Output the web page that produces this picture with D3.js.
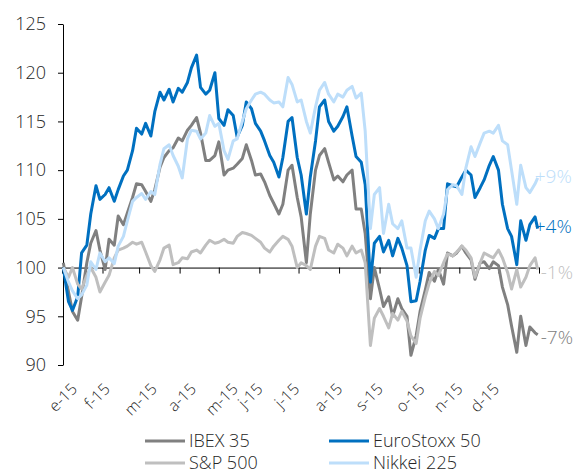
<!DOCTYPE html>
<meta charset="utf-8">
<script src="https://cdn.jsdelivr.net/npm/d3@7"></script>
<style>
	body{margin:0;background:#fff;font-family:"Open Sans",sans-serif;}
	.tick text{font-family:"Open Sans",sans-serif;fill:#262626;}
</style>
<div id="chart"></div>
<script>
// fechas (martes y viernes de 2015)
var dates = ["2015-01-02","2015-01-06","2015-01-09","2015-01-13","2015-01-16","2015-01-20","2015-01-23","2015-01-27","2015-01-30",
"2015-02-03","2015-02-06","2015-02-10","2015-02-13","2015-02-17","2015-02-20","2015-02-24","2015-02-27",
"2015-03-03","2015-03-06","2015-03-10","2015-03-13","2015-03-17","2015-03-20","2015-03-24","2015-03-27","2015-03-31",
"2015-04-03","2015-04-07","2015-04-10","2015-04-14","2015-04-17","2015-04-21","2015-04-24","2015-04-28",
"2015-05-01","2015-05-05","2015-05-08","2015-05-12","2015-05-15","2015-05-19","2015-05-22","2015-05-26","2015-05-29",
"2015-06-02","2015-06-05","2015-06-09","2015-06-12","2015-06-16","2015-06-19","2015-06-23","2015-06-26","2015-06-30",
"2015-07-03","2015-07-07","2015-07-10","2015-07-14","2015-07-17","2015-07-21","2015-07-24","2015-07-28","2015-07-31",
"2015-08-04","2015-08-07","2015-08-11","2015-08-14","2015-08-18","2015-08-21","2015-08-25","2015-08-28",
"2015-09-01","2015-09-04","2015-09-08","2015-09-11","2015-09-15","2015-09-18","2015-09-22","2015-09-25","2015-09-29",
"2015-10-02","2015-10-06","2015-10-09","2015-10-13","2015-10-16","2015-10-20","2015-10-23","2015-10-27","2015-10-30",
"2015-11-03","2015-11-06","2015-11-10","2015-11-13","2015-11-17","2015-11-20","2015-11-24","2015-11-27",
"2015-12-01","2015-12-04","2015-12-08","2015-12-11","2015-12-15","2015-12-18","2015-12-22","2015-12-25","2015-12-29","2015-12-31"]

var ibex = [100.5,97.5,95.5,94.6,97.0,100.5,102.5,103.8,101.8,
99.8,102.9,102.3,105.3,104.4,105.6,107.2,108.6,
108.5,107.8,106.8,108.0,110.3,111.3,112.0,112.3,113.3,
113.0,114.1,114.6,115.4,113.8,111.0,111.0,111.5,
112.9,109.5,110.0,110.2,110.6,111.2,112.6,111.0,109.5,
109.6,108.8,107.4,106.6,105.5,106.5,110.0,110.5,107.2,
105.2,100.5,105.5,110.0,111.5,112.2,110.8,109.0,109.4,
108.8,109.5,110.0,106.0,106.0,103.5,96.8,100.0,
97.8,96.0,97.0,95.0,96.8,95.8,95.0,91.0,93.0,
95.5,97.7,99.5,98.6,99.8,98.3,101.5,101.2,101.5,
102.2,101.5,100.8,98.8,100.5,100.6,99.9,100.6,
100.2,98.0,96.2,94.0,91.3,95.0,92.0,93.9,93.3,93.1]

var eurostoxx = [100.0,96.5,95.6,97.0,101.5,102.3,105.5,108.4,107.0,
107.5,108.2,106.8,108.0,109.4,110.0,112.0,114.3,
113.7,114.8,113.5,116.0,118.0,117.2,118.3,117.0,118.4,
118.0,119.0,120.5,121.8,118.5,117.8,118.2,120.0,
115.3,114.6,116.2,115.6,113.4,114.6,117.0,116.3,114.8,
114.0,113.0,111.5,110.8,109.3,111.3,115.0,115.4,111.3,
109.5,105.5,109.3,113.0,116.5,117.2,115.0,114.0,114.5,
115.5,116.5,113.5,111.4,110.8,108.5,98.5,102.5,
103.2,101.6,102.8,101.2,103.0,102.0,100.2,96.5,96.6,
98.6,101.8,103.3,103.0,104.0,104.0,108.6,108.4,108.3,
109.3,110.0,109.5,107.2,108.2,109.0,110.5,111.4,
110.0,106.5,104.0,103.2,100.3,104.8,102.8,104.4,105.2,104.0]

var sp500 = [100.0,99.0,100.0,98.3,97.8,99.2,100.0,99.0,97.5,
98.5,99.2,101.0,101.8,102.0,102.2,102.6,102.4,
102.6,101.6,100.2,99.6,100.8,102.0,102.3,100.3,100.5,
101.0,100.9,101.6,101.8,101.5,102.3,102.8,102.5,
102.6,102.9,102.6,102.5,103.2,103.6,103.5,103.3,103.0,
102.6,102.0,101.6,102.2,102.8,103.2,102.9,102.2,100.0,
100.5,100.2,99.8,102.2,103.2,103.0,101.8,101.5,102.4,
102.0,101.2,102.2,101.5,101.8,100.5,92.0,94.8,
95.8,95.0,93.8,95.3,94.6,95.5,94.5,93.0,92.2,
94.8,97.0,98.4,99.6,99.2,100.5,101.4,101.2,101.6,
102.2,101.8,101.0,99.0,100.5,101.5,101.2,101.0,
101.8,101.0,99.5,97.8,99.8,98.0,99.0,100.2,101.0,99.8]

var nikkei = [100.0,98.5,97.6,96.8,97.2,98.2,100.6,99.8,101.5,
100.6,101.0,100.4,102.2,103.2,104.8,106.8,107.2,
107.6,107.0,107.8,107.5,110.6,112.2,112.6,111.5,110.4,
109.2,113.2,114.1,114.0,113.2,113.8,115.6,114.5,
114.8,112.0,111.1,113.0,113.2,115.0,116.3,117.2,117.8,
118.0,117.8,117.2,116.9,117.0,116.5,119.5,118.8,117.0,
117.2,115.0,113.8,116.5,118.2,119.0,117.8,117.0,117.8,
117.5,118.2,118.6,117.4,117.9,114.0,104.0,107.5,
108.2,103.5,106.5,104.5,104.0,104.8,102.0,102.0,99.0,
101.8,104.8,105.8,105.0,104.0,105.5,108.0,108.5,108.4,
107.5,110.2,112.4,111.4,112.8,113.8,114.0,113.8,
114.6,113.0,112.6,110.0,106.5,110.5,108.2,107.7,108.6,109.2]

var seriesNames = ["IBEX 35","EuroStoxx 50","S&P 500","Nikkei 225"]
var seriesValues = [ibex, eurostoxx, sp500, nikkei]
var seriesColors = ["#808080","#0070C0","#BFBFBF","#BDDEFA"]
var endLabels = ["-7%","+4%","-1%","+9%"]

var yTicks = [90,95,100,105,110,115,120,125]
var labelDates = ["2015-01-13","2015-02-07","2015-03-15","2015-04-14","2015-05-16","2015-06-04",
"2015-07-02","2015-08-04","2015-09-04","2015-10-06","2015-11-04","2015-12-02"]
var labelTexts = ["e-15","f-15","m-15","a-15","m-15","j-15","j-15","a-15","s-15","o-15","n-15","d-15"]

var width = 577, height = 475
var parse = d3.timeParse("%Y-%m-%d")

var svg = d3.select("#chart").append("svg")
	.attr("width", width)
	.attr("height", height)

var x = d3.scaleTime().domain([new Date(2015,0,1), new Date(2016,0,1)]).range([62, 539])
var y = d3.scaleLinear().domain([90,125]).range([365,24])

// eje Y
var yAxis = d3.axisLeft(y).tickValues(yTicks).tickSize(5).tickSizeOuter(0).tickPadding(12)
var gy = svg.append("g").attr("transform","translate(63,0)").call(yAxis)
gy.selectAll("text").style("font-size","18px").style("font-weight","300")
gy.selectAll("line,path").attr("stroke","#000")

// eje X en 100 con marcas mensuales
var xAxis = d3.axisBottom(x).ticks(d3.timeMonth.every(1)).tickSize(6).tickSizeOuter(0).tickFormat("")
var gx = svg.append("g").attr("transform","translate(0,"+y(100)+")").call(xAxis)
gx.selectAll("line,path").attr("stroke","#000")

// etiquetas de meses
var labelMap = {}
labelDates.forEach(function(d,i){ labelMap[d] = labelTexts[i] })
var lAxis = d3.axisBottom(x).tickValues(labelDates.map(parse)).tickSize(0)
	.tickFormat(function(d){ return labelMap[d3.timeFormat("%Y-%m-%d")(d)] })
var gl = svg.append("g").attr("transform","translate(0,390)").call(lAxis)
gl.select(".domain").remove()
gl.selectAll("text")
	.attr("text-anchor","end")
	.attr("y",0).attr("dy","0")
	.attr("transform","rotate(-45)")
	.style("font-size","16px").style("font-weight","300")

// lineas
var line = d3.line()
	.x(function(d,i){ return x(parse(dates[i])) })
	.y(function(d){ return y(d) })

seriesValues.forEach(function(vals,i){
	svg.append("path")
		.datum(vals)
		.attr("fill","none")
		.attr("stroke",seriesColors[i])
		.attr("stroke-width",3)
		.attr("stroke-linejoin","round")
		.attr("d",line)
})

// etiquetas finales
seriesValues.forEach(function(vals,i){
	var last = vals[vals.length-1]
	svg.append("text")
		.attr("x", x(parse(dates[dates.length-1])) + (endLabels[i][0]=="+" ? -3 : 3))
		.attr("y", y(last) + (endLabels[i][0]=="+" ? -2 : 3))
		.attr("dy","0.35em")
		.attr("fill", seriesColors[i])
		.style("font-size","19px").style("font-weight","300")
		.text(endLabels[i])
})

// leyenda
var legX = [145,329], legY = [441,463]
seriesNames.forEach(function(n,i){
	var lx = legX[i%2], ly = legY[Math.floor(i/2)]
	svg.append("line")
		.attr("x1",lx).attr("x2",lx+40).attr("y1",ly).attr("y2",ly)
		.attr("stroke",seriesColors[i]).attr("stroke-width",3)
	svg.append("text")
		.attr("x",lx+44).attr("y",ly).attr("dy","0.35em")
		.attr("fill","#262626")
		.style("font-size","18px").style("font-weight","300")
		.text(n)
})
</script>
